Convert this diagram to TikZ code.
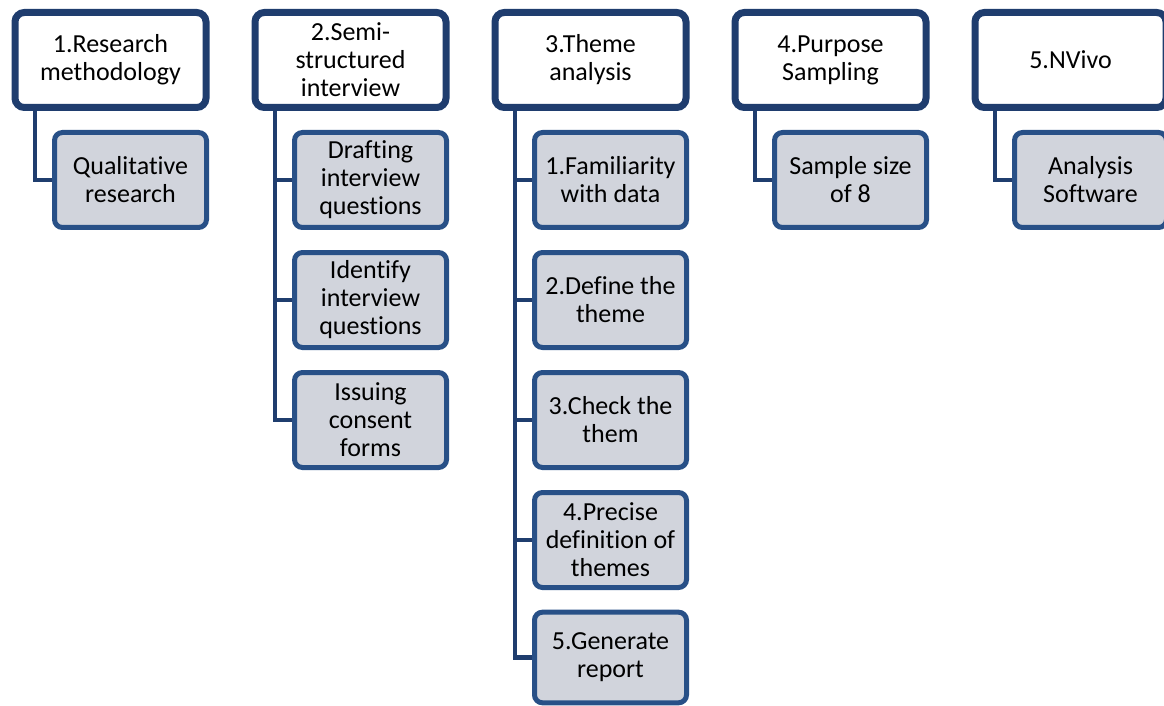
\documentclass[tikz,border=0pt]{standalone}
\usepackage{fontspec}
\setmainfont[RawFeature={-liga;-clig;-calt;-dlig;-rlig}]{Carlito}
\usetikzlibrary{shadows,calc}
\definecolor{topborder}{RGB}{31,61,110}
\definecolor{childborder}{RGB}{40,80,135}
\definecolor{childfill}{RGB}{209,212,220}
\definecolor{linkcol}{RGB}{31,61,110}
\begin{document}
\begin{tikzpicture}[x=0.75pt,y=-0.75pt,
  topbox/.style={draw=topborder, line width=5.25pt, rounded corners=7pt, fill=white,
    minimum width=143.25pt, minimum height=71.25pt, align=center, inner sep=0pt,
    font=\fontsize{19.5}{21}\selectfont,
    drop shadow={opacity=0.18, shadow xshift=1.5pt, shadow yshift=-1.5pt}},
  childbox/.style={draw=childborder, line width=3.75pt, rounded corners=6pt, fill=childfill,
    minimum width=114pt, minimum height=71.25pt, align=center, inner sep=0pt,
    font=\fontsize{19.5}{21}\selectfont},
  link/.style={draw=linkcol, line width=3.4pt}]
\clip (0,0) rectangle (1164,706);
% top row
\node[topbox] (t1) at (110.5,60) {1.Research\\methodology};
\node[topbox] (t2) at (350.5,60) {2.Semi-\\structured\\interview};
\node[topbox] (t3) at (590.5,60) {3.Theme\\analysis};
\node[topbox] (t4) at (830.5,60) {4.Purpose\\Sampling};
\node[topbox] (t5) at (1070.5,60) {5.NVivo};
% children
\node[childbox] (c11) at (130.5,180) {Qualitative\\research};
\node[childbox] (c21) at (370.5,180) {Drafting\\interview\\questions};
\node[childbox] (c22) at (370.5,300) {Identify\\interview\\questions};
\node[childbox] (c23) at (370.5,420) {Issuing\\consent\\forms};
\node[childbox] (c31) at (610.5,180) {1.Familiarity\\with data};
\node[childbox] (c32) at (610.5,300) {2.Define the\\theme};
\node[childbox] (c33) at (610.5,420) {3.Check the\\them};
\node[childbox] (c34) at (610.5,540) {4.Precise\\definition of\\themes};
\node[childbox, minimum height=68pt] (c35) at (610.5,657.5) {5.Generate\\report};
\node[childbox] (c41) at (850.5,180) {Sample size\\of 8};
\node[childbox] (c51) at (1090.5,180) {Analysis\\Software};
% connectors
\draw[link] ($(t1.south west)+(23.5,0)$) |- (c11.west);
\foreach \c in {c21,c22,c23} \draw[link] ($(t2.south west)+(23.5,0)$) |- (\c.west);
\foreach \c in {c31,c32,c33,c34,c35} \draw[link] ($(t3.south west)+(23.5,0)$) |- (\c.west);
\draw[link] ($(t4.south west)+(23.5,0)$) |- (c41.west);
\draw[link] ($(t5.south west)+(23.5,0)$) |- (c51.west);
\end{tikzpicture}
\end{document}
